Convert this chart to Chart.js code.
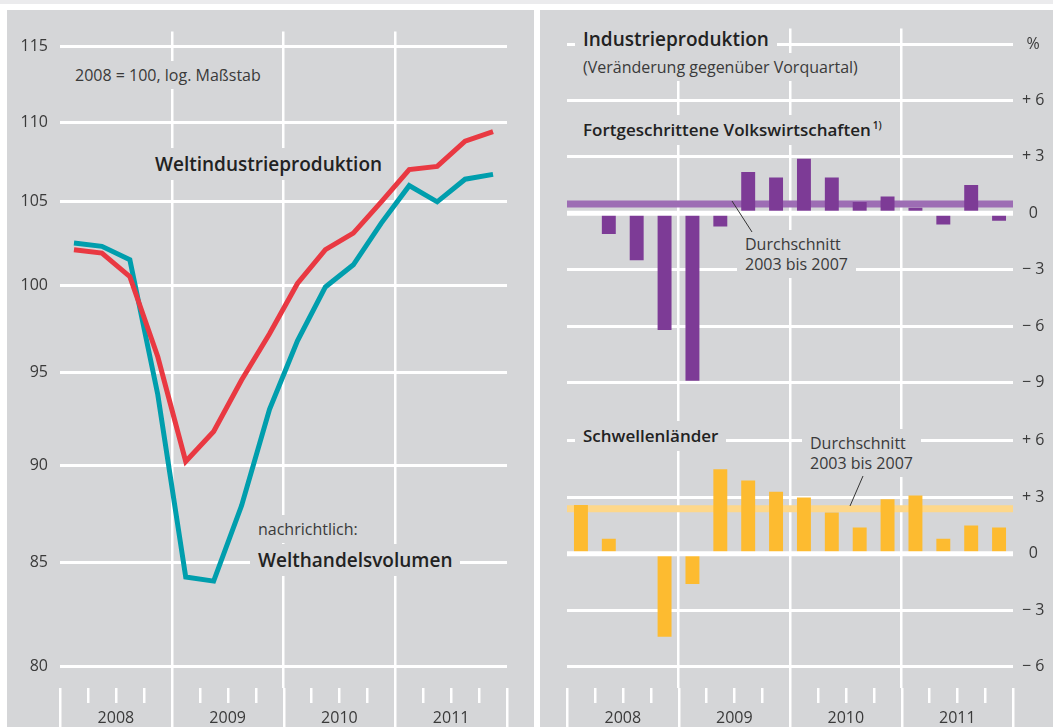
<!DOCTYPE html>
<html lang="de">
<head>
<meta charset="utf-8">
<title>Weltindustrieproduktion und Industrieproduktion</title>
<script src="https://cdn.jsdelivr.net/npm/chart.js@4"></script>
<style>
  html, body { margin: 0; padding: 0; background: #fff; }
  #page { position: relative; width: 1053px; height: 727px; overflow: hidden; background: #fff;
    font-family: "Open Sans", "Noto Sans", sans-serif; color: #333; }
  .strip { position: absolute; left: 0; top: 0; width: 1053px; height: 4px; background: #ebebed; }
  .panel { position: absolute; top: 10px; height: 717px; background: #d5d6d8; }
  #pl { left: 7px; width: 527px; }
  #pr { left: 540px; width: 513px; }
  .panel canvas { position: absolute; left: 0; top: 0; }
  .note { position: absolute; background: #d5d6d8; white-space: nowrap; padding: 4px 8px; }
  .light { font-size: 16px; line-height: 20px; font-weight: 400; color: #3a3a3a; }
  .big { font-size: 19px; line-height: 24px; font-weight: 600; color: #222; }
  .sub { font-size: 17px; line-height: 22px; font-weight: 600; color: #222; }
  .sub sup { font-size: 10px; line-height: 0; vertical-align: 7px; margin-left: 2px; }
  svg { position: absolute; left: 0; top: 0; pointer-events: none; }
</style>
</head>
<body>
<div id="page">
  <div class="strip"></div>
  <div class="panel" id="pl"><canvas id="c-index" width="527" height="717"></canvas></div>
  <div class="panel" id="pr"><canvas id="c-growth" width="513" height="717"></canvas></div>

  <!-- linke Seite -->
  <div class="note light" style="left:67px;top:61px">2008 = 100, log. Maßstab</div>
  <div class="note big" style="left:147px;top:148px">Weltindustrieproduktion</div>
  <div class="note light" style="left:250px;top:515px">nachrichtlich:</div>
  <div class="note big" style="left:250px;top:544px">Welthandelsvolumen</div>

  <!-- rechte Seite -->
  <div class="note big" style="left:575px;top:23px">Industrieproduktion</div>
  <div class="note light" style="left:575px;top:53px">(Veränderung gegenüber Vorquartal)</div>
  <div class="note sub" style="left:575px;top:115px">Fortgeschrittene Volkswirtschaften<sup>1)</sup></div>
  <div class="note sub" style="left:575px;top:421px">Schwellenländer</div>
  <div class="note light" style="left:737px;top:230px">Durchschnitt<br>2003 bis 2007</div>
  <div class="note light" style="left:802px;top:429px">Durchschnitt<br>2003 bis 2007</div>

  <svg width="1053" height="727">
    <line x1="732" y1="201" x2="752" y2="232" stroke="#333" stroke-width="1"/>
    <line x1="863" y1="476" x2="850" y2="506" stroke="#333" stroke-width="1"/>
  </svg>
</div>

<script>
// Quartale 2008 bis 2011, Jahreszahlen als Achsenbeschriftung
const quarters = [
  "2008 Q1", "2008 Q2", "2008 Q3", "2008 Q4",
  "2009 Q1", "2009 Q2", "2009 Q3", "2009 Q4",
  "2010 Q1", "2010 Q2", "2010 Q3", "2010 Q4",
  "2011 Q1", "2011 Q2", "2011 Q3", "2011 Q4",
];
const years = ["2008", "2009", "2010", "2011"];

// Index 2008 = 100
const worldProduction = [102.1, 101.9, 100.5, 95.9, 90.2, 91.8, 94.6, 97.2,
  100.1, 102.1, 103.1, 105.0, 107.0, 107.2, 108.8, 109.4];
const worldTrade = [102.5, 102.3, 101.5, 93.8, 84.3, 84.1, 87.9, 93.0,
  96.8, 99.9, 101.2, 103.7, 106.0, 105.0, 106.4, 106.7];
const indexTicks = [80, 85, 90, 95, 100, 105, 110, 115];

// Veränderung gegenüber Vorquartal in %
const advanced = [0.05, -1.1, -2.5, -6.2, -8.9, -0.7, 2.2, 1.9,
  2.9, 1.9, 0.6, 0.9, 0.3, -0.6, 1.5, -0.4];
const emerging = [2.6, 0.8, 0, -4.4, -1.6, 4.5, 3.9, 3.3,
  3.0, 2.2, 1.4, 2.9, 3.1, 0.8, 1.5, 1.4];
const advancedAvg = 0.5;   // Durchschnitt 2003 bis 2007
const emergingAvg = 2.4;
const advancedTicks = [9, 6, 3, 0, -3, -6, -9];
const emergingTicks = [6, 3, 0, -3, -6];

const GRID = "#ffffff";
const TEXT = "#3a3a3a";
const FONT = { family: "'Open Sans', 'Noto Sans', sans-serif", size: 16, weight: 400 };
Chart.defaults.font.family = FONT.family;
Chart.defaults.color = TEXT;

// weiße Quartals- und Jahresstriche unter der Zeichenfläche
const quarterTicks = {
  id: "quarterTicks",
  afterDraw(chart) {
    const x = chart.scales.x, area = chart.chartArea, ctx = chart.ctx;
    const step = x.getPixelForValue(1) - x.getPixelForValue(0);
    const start = x.getPixelForValue(0) - step / 2;
    ctx.save();
    ctx.strokeStyle = GRID;
    ctx.lineWidth = 2.5;
    for (let i = 0; i <= quarters.length; i++) {
      const px = Math.round(start + i * step) + 0.25;
      const len = i % 4 === 0 ? chart.height - area.bottom : 15;
      ctx.beginPath();
      ctx.moveTo(px, area.bottom);
      ctx.lineTo(px, area.bottom + len);
      ctx.stroke();
    }
    ctx.restore();
  },
};

const xAxis = {
  type: "category",
  offset: true,
  border: { display: false },
  grid: {
    offset: true, drawTicks: false, lineWidth: 2.5,
    color: (c) => (c.index % 4 === 0 && c.index > 0 && c.index < quarters.length) ? GRID : "rgba(0,0,0,0)",
  },
  ticks: {
    autoSkip: false, maxRotation: 0, minRotation: 0, padding: 21, labelOffset: 14,
    font: FONT, color: TEXT,
    callback: (v, i) => (i % 4 === 1 ? years[Math.floor(i / 4)] : ""),
  },
  afterFit: (s) => { s.height = 39; },
};

const signed = (v) => (v === 0 ? "0" : (v > 0 ? "+ " : "\u2212 ") + Math.abs(v));

// ---------- links: Weltindustrieproduktion, log. Maßstab ----------
new Chart(document.getElementById("c-index"), {
  type: "line",
  data: {
    labels: quarters,
    datasets: [
      { label: "Weltindustrieproduktion", data: worldProduction, borderColor: "#e93942",
        borderWidth: 5, pointRadius: 0, tension: 0, fill: false },
      { label: "Welthandelsvolumen", data: worldTrade, borderColor: "#009ead",
        borderWidth: 5, pointRadius: 0, tension: 0, fill: false },
    ],
  },
  options: {
    responsive: false, animation: false, events: [], devicePixelRatio: 1,
    layout: { padding: { left: 0, right: 27, top: 12, bottom: 0 } },
    plugins: { legend: { display: false }, tooltip: { enabled: false } },
    scales: {
      x: xAxis,
      y: {
        type: "logarithmic", min: 79, max: 116,
        border: { display: false },
        grid: { color: GRID, lineWidth: 3, drawTicks: false },
        afterBuildTicks: (s) => { s.ticks = indexTicks.map((v) => ({ value: v })); },
        ticks: { padding: 12, font: FONT, color: TEXT, callback: (v) => String(v) },
        afterFit: (s) => { s.width = 53; },
      },
    },
  },
  plugins: [quarterTicks],
});

// ---------- rechts: Industrieproduktion, Veränderung gegenüber Vorquartal ----------
const averages = [["y1", advancedAvg, "#9d6db4"], ["y2", emergingAvg, "#fdd78a"]];
const averageLines = {
  id: "averageLines",
  beforeDatasetsDraw(chart) {
    const { ctx, chartArea: a } = chart;
    ctx.save();
    ctx.lineWidth = 7;
    averages.forEach(([id, v, col]) => {
      const y = chart.scales[id].getPixelForValue(v);
      ctx.strokeStyle = col;
      ctx.beginPath(); ctx.moveTo(a.left, y); ctx.lineTo(a.right, y); ctx.stroke();
    });
    ctx.restore();
  },
  afterDatasetsDraw(chart) {
    // Nulllinie liegt über den Balken
    const { ctx, chartArea: a } = chart;
    ctx.save();
    ctx.lineWidth = 5;
    ctx.strokeStyle = GRID;
    ["y1", "y2"].forEach((id) => {
      const y = chart.scales[id].getPixelForValue(0);
      ctx.beginPath(); ctx.moveTo(a.left, y); ctx.lineTo(a.right, y); ctx.stroke();
    });
    ctx.restore();
  },
};

const pctAxis = (min, max, weight, tickList, top) => ({
  type: "linear", position: "right", stack: "pct", stackWeight: weight,
  min, max,
  border: { display: false },
  grid: { color: GRID, lineWidth: 3, drawTicks: false },
  afterBuildTicks: (s) => { s.ticks = tickList.map((v) => ({ value: v })); },
  ticks: {
    padding: 9, crossAlign: "center", font: FONT, color: TEXT,
    callback: (v) => (top && v === tickList[0] ? "%" : signed(v)),
  },
  afterFit: (s) => { s.width = 40; },
});

new Chart(document.getElementById("c-growth"), {
  type: "bar",
  data: {
    labels: quarters,
    datasets: [
      { label: "Fortgeschrittene Volkswirtschaften", data: advanced, yAxisID: "y1",
        backgroundColor: "#7d3b96", grouped: false, barPercentage: 0.5, categoryPercentage: 1 },
      { label: "Schwellenländer", data: emerging, yAxisID: "y2",
        backgroundColor: "#fdbb30", grouped: false, barPercentage: 0.5, categoryPercentage: 1 },
    ],
  },
  options: {
    responsive: false, animation: false, events: [], devicePixelRatio: 1,
    layout: { padding: { left: 27, right: 0, top: 12, bottom: 0 } },
    plugins: { legend: { display: false }, tooltip: { enabled: false } },
    scales: {
      x: xAxis,
      y1: pctAxis(-10.55, 9.82, 387, advancedTicks, true),
      y2: pctAxis(-7.13, 7.55, 279, emergingTicks, false),
    },
  },
  plugins: [averageLines, quarterTicks],
});
</script>
</body>
</html>
